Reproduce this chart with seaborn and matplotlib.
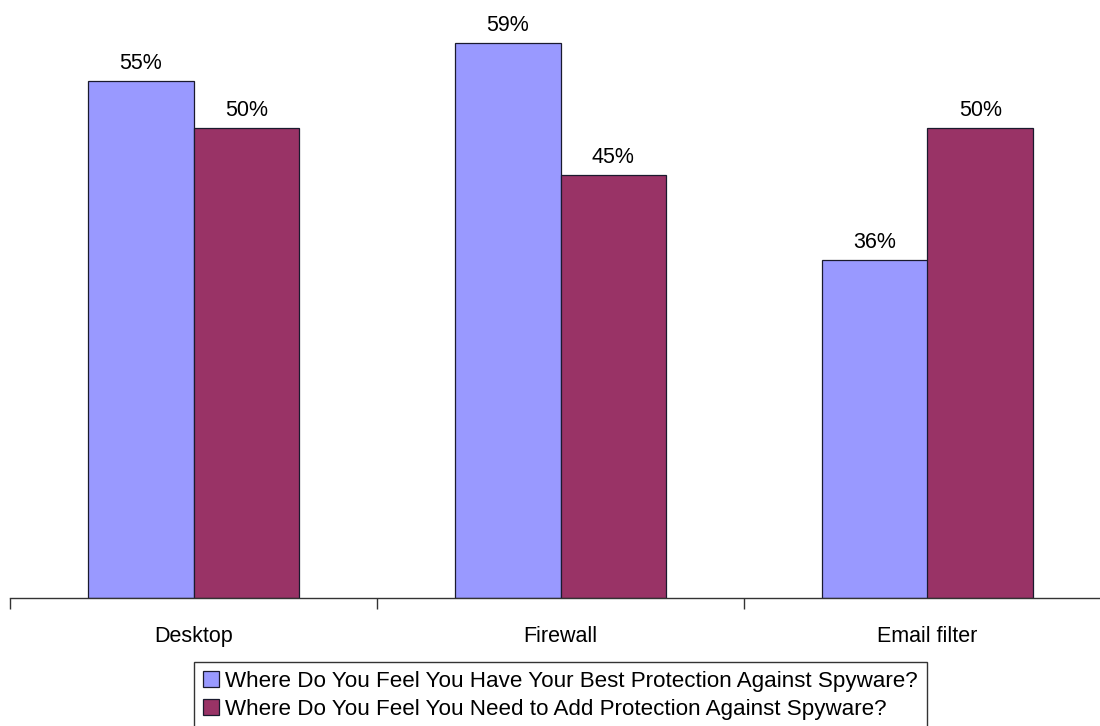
import matplotlib
matplotlib.use("Agg")
import matplotlib.pyplot as plt
import seaborn as sns
import pandas as pd

categories = ["Desktop", "Firewall", "Email filter"]
series_names = [
    "Where Do You Feel You Have Your Best Protection Against Spyware?",
    "Where Do You Feel You Need to Add Protection Against Spyware?",
]
best_protection = [55, 59, 36]
need_protection = [50, 45, 50]
colors = ["#9999FF", "#993366"]

df = pd.DataFrame({
    "category": categories * 2,
    "series": [series_names[0]] * 3 + [series_names[1]] * 3,
    "value": best_protection + need_protection,
})

sns.set_theme(style="white")
plt.rcParams["font.family"] = ["Liberation Sans", "DejaVu Sans"]
plt.rcParams["text.color"] = "black"
plt.rcParams["xtick.color"] = "black"

W, H = 1100, 726
fig = plt.figure(figsize=(W / 100, H / 100), dpi=100)
ax = fig.add_axes([10 / W, (H - 598) / H, 1101 / W, 598 / H])

sns.barplot(data=df, x="category", y="value", hue="series", order=categories,
            hue_order=series_names, palette=colors, width=0.575,
            edgecolor="#1a1a2e", linewidth=0.9, saturation=1, ax=ax)

ax.set_ylim(0, 598 / 9.4)
ax.set_xlim(-0.5, 2.5)

for container in ax.containers:
    ax.bar_label(container, labels=[f"{v:.0f}%" for v in container.datavalues],
                 padding=5, fontsize=15.5, color="black")

for side in ["left", "right", "top"]:
    ax.spines[side].set_visible(False)
ax.spines["bottom"].set_color("#333333")
ax.spines["bottom"].set_linewidth(1)
ax.set_yticks([])
ax.set_xlabel("")
ax.set_ylabel("")
ax.set_xticks([0, 1, 2])
ax.set_xticklabels(categories, fontsize=15.5, color="black")
ax.tick_params(axis="x", which="major", length=0, pad=20)
ax.set_xticks([-0.5, 0.5, 1.5, 2.5], minor=True)
ax.tick_params(axis="x", which="minor", length=8, width=1, color="#333333",
               direction="out", bottom=True)

ax.legend_.remove()
handles = [plt.Rectangle((0, 0), 1, 1, facecolor=c, edgecolor="#1a1a2e", linewidth=0.9)
           for c in colors]
leg = fig.legend(handles, series_names, loc="upper left",
                 bbox_to_anchor=(194 / W, 1 - 662 / H), fontsize=16.1,
                 frameon=True, fancybox=False, handlelength=0.7, handleheight=0.7,
                 handletextpad=0.3, borderpad=0.4, labelspacing=0.3,
                 borderaxespad=0)
leg.get_frame().set_edgecolor("black")
leg.get_frame().set_linewidth(1)
for t in leg.get_texts():
    t.set_color("black")

fig.savefig("out.png", dpi=100)
